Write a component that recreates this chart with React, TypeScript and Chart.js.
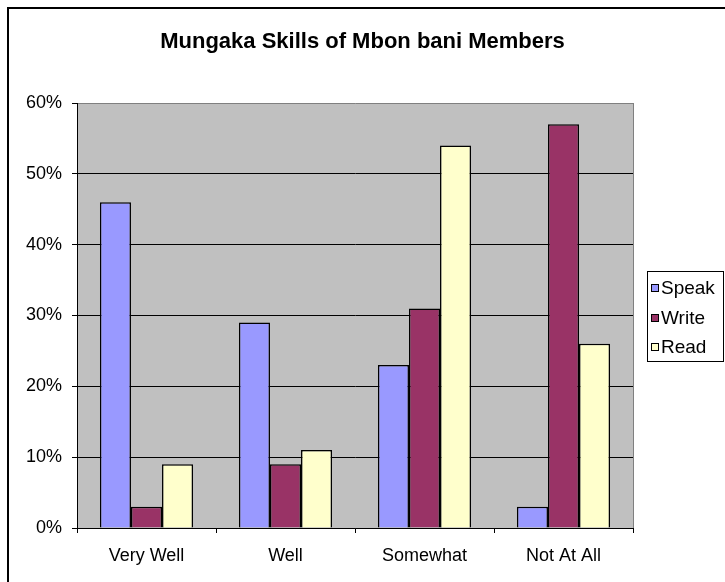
import React, { useEffect, useRef } from "react";
import { Chart, registerables } from "chart.js";

Chart.register(...registerables);

const categories = ["Very Well", "Well", "Somewhat", "Not At All"];
const speakValues = [46, 29, 23, 3];
const writeValues = [3, 9, 31, 57];
const readValues = [9, 11, 54, 26];
const seriesNames = ["Speak", "Write", "Read"];
const seriesColors = ["#9999FF", "#993366", "#FFFFCC"];
const chartTitle = "Mungaka Skills of Mbon bani Members";
const yMin = 0;
const yMax = 60;
const yStep = 10;

const FONT = '"Liberation Sans", Arial, sans-serif';

const decorPlugin = {
  id: "decor",
  beforeDraw(chart: any) {
    const { ctx, chartArea } = chart;
    ctx.save();
    ctx.fillStyle = "#FFFFFF";
    ctx.fillRect(0, 0, chart.width, chart.height);
    // outer chart border
    ctx.strokeStyle = "#000000";
    ctx.lineWidth = 2;
    ctx.strokeRect(8, 8, chart.width, chart.height);
    // plot area
    ctx.fillStyle = "#C0C0C0";
    ctx.fillRect(chartArea.left, chartArea.top, chartArea.right - chartArea.left, chartArea.bottom - chartArea.top);
    ctx.restore();
  },
  afterDraw(chart: any) {
    const { ctx, chartArea } = chart;
    ctx.save();
    // title
    ctx.fillStyle = "#000000";
    ctx.font = `bold 22px ${FONT}`;
    ctx.textAlign = "center";
    ctx.textBaseline = "middle";
    ctx.fillText(chart.options.plugins.decor.title, chart.width / 2, 42);
    // right border of plot area
    ctx.strokeStyle = "#808080";
    ctx.lineWidth = 1;
    ctx.beginPath();
    ctx.moveTo(Math.round(chartArea.right) + 0.5, chartArea.top);
    ctx.lineTo(Math.round(chartArea.right) + 0.5, chartArea.bottom);
    ctx.stroke();
    // legend
    const bx = 647, by = 271, bw = 76, bh = 90;
    ctx.fillStyle = "#FFFFFF";
    ctx.fillRect(bx, by, bw, bh);
    ctx.strokeStyle = "#000000";
    ctx.lineWidth = 1;
    ctx.strokeRect(bx + 0.5, by + 0.5, bw, bh);
    ctx.font = `19px ${FONT}`;
    ctx.textBaseline = "middle";
    ctx.textAlign = "left";
    chart.data.datasets.forEach((ds: any, i: number) => {
      const cy = by + 17 + i * 29.5;
      ctx.fillStyle = ds.backgroundColor;
      ctx.fillRect(651, Math.round(cy - 4), 8, 8);
      ctx.strokeStyle = "#000000";
      ctx.strokeRect(651.5, Math.round(cy - 4) + 0.5, 7, 7);
      ctx.fillStyle = "#000000";
      ctx.fillText(ds.label, 661, cy + 1);
    });
    ctx.restore();
  },
};

export default function App() {
  const canvasRef = useRef<HTMLCanvasElement | null>(null);

  useEffect(() => {
    if (!canvasRef.current) return;
    const datasets = [speakValues, writeValues, readValues].map((vals, i) => ({
      label: seriesNames[i],
      data: vals,
      backgroundColor: seriesColors[i],
      borderColor: "#000000",
      borderWidth: 1.5,
      categoryPercentage: 0.67,
      barPercentage: 1.0,
    }));
    const chart = new Chart(canvasRef.current, {
      type: "bar",
      data: { labels: categories, datasets },
      plugins: [decorPlugin],
      options: {
        animation: false,
        responsive: false,
        devicePixelRatio: 1,
        layout: { padding: { left: 0, right: 92, top: 103, bottom: 0 } },
        plugins: {
          legend: { display: false },
          tooltip: { enabled: false },
          title: { display: false },
          decor: { title: chartTitle },
        } as any,
        scales: {
          x: {
            grid: {
              offset: true,
              drawOnChartArea: false,
              drawTicks: true,
              tickLength: 5,
              color: "#000000",
              tickColor: "#000000",
            },
            border: { display: true, color: "#000000", width: 1 },
            ticks: {
              color: "#000000",
              font: { family: FONT, size: 18 },
              padding: 12,
              maxRotation: 0,
            },
            afterFit(scale: any) {
              scale.height = 54;
            },
          },
          y: {
            min: yMin,
            max: yMax,
            grid: {
              color: (ctx: any) => (ctx.tick && ctx.tick.value === yMax ? "#808080" : "#000000"),
              tickColor: "#000000",
              tickLength: 5,
              lineWidth: 1,
            },
            border: { display: true, color: "#000000", width: 1 },
            ticks: {
              stepSize: yStep,
              color: "#000000",
              font: { family: FONT, size: 18 },
              padding: 10,
              callback: (v: any) => `${v}%`,
            },
            afterFit(scale: any) {
              scale.width = 77;
            },
          },
        },
      },
    });
    return () => chart.destroy();
  }, []);

  return (
    <div style={{ position: "fixed", left: 0, top: 0, width: 725, height: 582 }}>
      <canvas ref={canvasRef} width={725} height={582} style={{ display: "block" }} />
    </div>
  );
}
